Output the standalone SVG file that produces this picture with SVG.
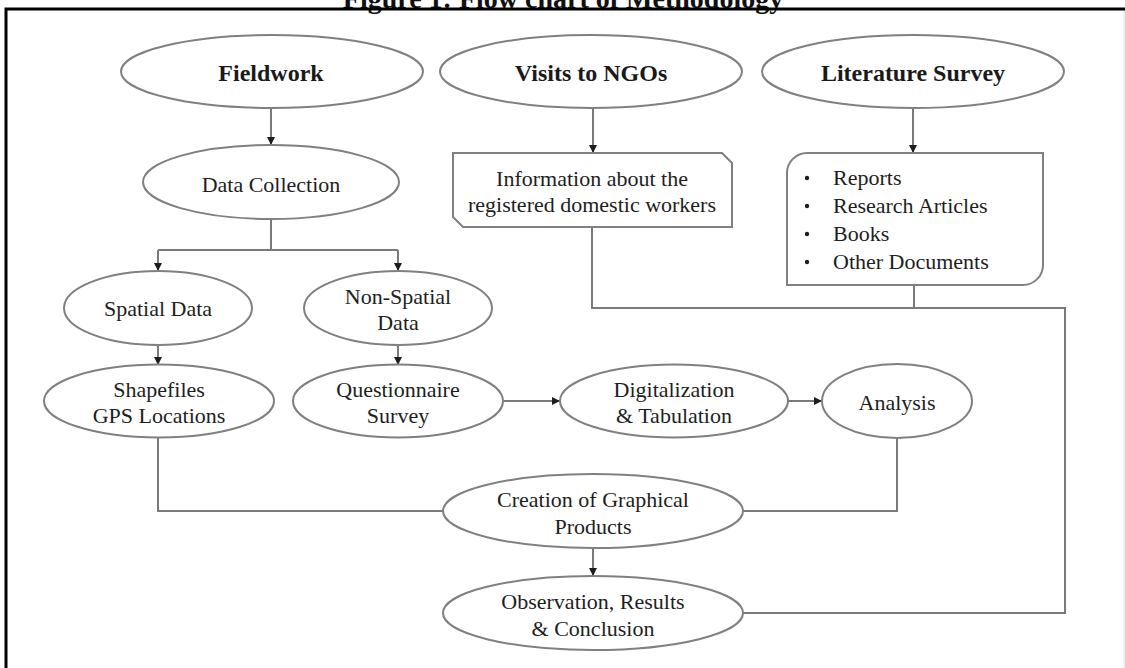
<svg xmlns="http://www.w3.org/2000/svg" width="1125" height="668" viewBox="0 0 1125 668">
<defs>
<style>
.shape{fill:#fff;stroke:#808080;stroke-width:2}
.conn{fill:none;stroke:#7a7a7a;stroke-width:2}
.t{font-family:"Liberation Serif","Times New Roman",serif;font-size:22px;fill:#1e1e1e;text-anchor:middle}
.tl{font-family:"Liberation Serif","Times New Roman",serif;font-size:22px;fill:#1e1e1e}
.b{font-family:"Liberation Serif","Times New Roman",serif;font-size:24px;font-weight:bold;fill:#1a1a1a;text-anchor:middle}
</style>
<marker id="arr" markerWidth="8" markerHeight="8" refX="8" refY="4" orient="auto" markerUnits="userSpaceOnUse">
<path d="M0,0 L8,4 L0,8 Z" fill="#1e1e1e"/>
</marker>
</defs>
<rect width="1125" height="668" fill="#fff"/>
<text x="563" y="8" font-family="Liberation Serif, serif" font-size="28" font-weight="bold" fill="#111" text-anchor="middle">Figure 1: Flow chart of Methodology</text>
<line x1="1124" y1="9" x2="1124" y2="668" stroke="#e0e0e0" stroke-width="1"/>
<path d="M6,668 V9 H1125" fill="none" stroke="#000" stroke-width="3"/>

<g id="connectors">
<path class="conn" d="M271,108 V145" marker-end="url(#arr)"/>
<path class="conn" d="M593,108 V153" marker-end="url(#arr)"/>
<path class="conn" d="M913,108 V153" marker-end="url(#arr)"/>
<path class="conn" d="M271,219 V250 M158,250 H398"/>
<path class="conn" d="M158,250 V271" marker-end="url(#arr)"/>
<path class="conn" d="M398,250 V271" marker-end="url(#arr)"/>
<path class="conn" d="M158,345 V365" marker-end="url(#arr)"/>
<path class="conn" d="M398,345 V365" marker-end="url(#arr)"/>
<path class="conn" d="M503,401 H560" marker-end="url(#arr)"/>
<path class="conn" d="M788,401 H822" marker-end="url(#arr)"/>
<path class="conn" d="M158,437 V511 H443"/>
<path class="conn" d="M897,438 V511 H743"/>
<path class="conn" d="M593,548 V576" marker-end="url(#arr)"/>
<path class="conn" d="M743,613 H1065 V308 H592 V227"/>
<path class="conn" d="M914,285 V308"/>
</g>

<g id="fieldwork">
<ellipse class="shape" cx="272" cy="71.5" rx="151" ry="36.5"/>
<text class="b" x="271" y="81">Fieldwork</text>
</g>
<g id="visits">
<ellipse class="shape" cx="591" cy="71.5" rx="151" ry="36.5"/>
<text class="b" x="591" y="81">Visits to NGOs</text>
</g>
<g id="literature">
<ellipse class="shape" cx="913" cy="71.5" rx="151" ry="36.5"/>
<text class="b" x="913" y="81">Literature Survey</text>
</g>
<g id="data-collection">
<ellipse class="shape" cx="271" cy="182" rx="128" ry="37"/>
<text class="t" x="271" y="192">Data Collection</text>
</g>
<g id="ngo-info">
<path class="shape" d="M453,153 H722 L732,163 V227 H463 L453,217 Z"/>
<text class="t" x="592" y="186">Information about the</text>
<text class="t" x="592" y="212">registered domestic workers</text>
</g>
<g id="lit-sources">
<path class="shape" d="M807,153 H1043 V265 A20,20 0 0 1 1023,285 H787 V173 A20,20 0 0 1 807,153 Z"/>
<circle cx="807" cy="178" r="2.2" fill="#1e1e1e"/>
<circle cx="807" cy="206" r="2.2" fill="#1e1e1e"/>
<circle cx="807" cy="234" r="2.2" fill="#1e1e1e"/>
<circle cx="807" cy="262" r="2.2" fill="#1e1e1e"/>
<text class="tl" x="833" y="185">Reports</text>
<text class="tl" x="833" y="213">Research Articles</text>
<text class="tl" x="833" y="241">Books</text>
<text class="tl" x="833" y="269">Other Documents</text>
</g>
<g id="spatial">
<ellipse class="shape" cx="158" cy="308" rx="94" ry="37"/>
<text class="t" x="158" y="316">Spatial Data</text>
</g>
<g id="non-spatial">
<ellipse class="shape" cx="398" cy="308" rx="94" ry="37"/>
<text class="t" x="398" y="304">Non-Spatial</text>
<text class="t" x="398" y="330">Data</text>
</g>
<g id="shapefiles">
<ellipse class="shape" cx="159" cy="401" rx="115" ry="36.5"/>
<text class="t" x="159" y="397">Shapefiles</text>
<text class="t" x="159" y="423">GPS Locations</text>
</g>
<g id="questionnaire">
<ellipse class="shape" cx="398" cy="401" rx="105" ry="36.5"/>
<text class="t" x="398" y="397">Questionnaire</text>
<text class="t" x="398" y="423">Survey</text>
</g>
<g id="digitalization">
<ellipse class="shape" cx="674" cy="401" rx="114" ry="36.5"/>
<text class="t" x="674" y="397">Digitalization</text>
<text class="t" x="674" y="423">&amp; Tabulation</text>
</g>
<g id="analysis">
<ellipse class="shape" cx="897" cy="401" rx="75" ry="37"/>
<text class="t" x="897" y="410">Analysis</text>
</g>
<g id="creation">
<ellipse class="shape" cx="593" cy="511" rx="150" ry="37"/>
<text class="t" x="593" y="507">Creation of Graphical</text>
<text class="t" x="593" y="534">Products</text>
</g>
<g id="observation">
<ellipse class="shape" cx="593" cy="613" rx="150" ry="37"/>
<text class="t" x="593" y="609">Observation, Results</text>
<text class="t" x="593" y="636">&amp; Conclusion</text>
</g>
</svg>
